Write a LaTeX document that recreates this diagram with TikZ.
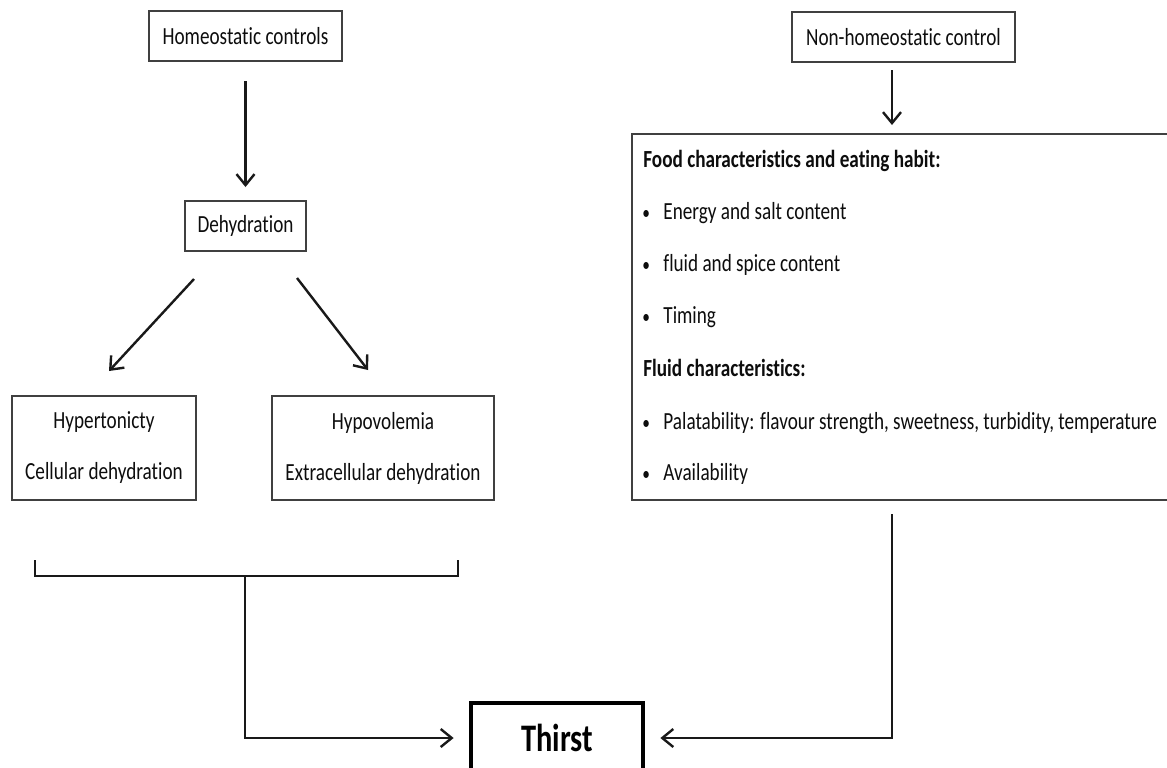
\documentclass[tikz,border=0pt]{standalone}
\usepackage{fontspec}
\setmainfont{Carlito}[FakeStretch=0.78, RawFeature={-liga;-calt;-clig;-dlig}]
\usetikzlibrary{arrows.meta,calc}
\newcommand{\bul}{\makebox[10.5pt][l]{\scalebox{0.8}{\textbullet}}}
\begin{document}
\begin{tikzpicture}[x=0.5pt,y=-0.5pt,
  font=\fontsize{12.3}{14.5}\selectfont,
  box/.style={draw=black!75, line width=1pt, text=black!95, inner sep=0pt, align=center},
  arr/.style={draw=black!90, line width=1.2pt, -{Straight Barb[length=5.5pt,width=9pt,line width=1.2pt]}},
  ln/.style={draw=black!90, line width=1.2pt},
  item/.style={anchor=base west, text=black!95, inner sep=0pt},
  hdr/.style={item, font=\fontsize{12.3}{14.5}\selectfont\bfseries}]
\useasboundingbox (0,0) rectangle (1167,767);
\fill[white] (0,0) rectangle (1167,767);
% nodes
\node[box, minimum width=96.5pt, minimum height=25pt] (homeo) at (245.5,36) {Homeostatic controls};
\node[box, minimum width=60.5pt, minimum height=25pt] (dehyd) at (245.5,226) {Dehydration};
\node[box, minimum width=92pt, minimum height=52pt] (hyper) at (104,448) {Hypertonicty\\[11pt]Cellular dehydration};
\node[box, minimum width=111pt, minimum height=52pt] (hypo) at (383,448) {Hypovolemia\\[11pt]Extracellular dehydration};
\node[box, minimum width=111.5pt, minimum height=25pt] (nonh) at (903.5,37) {Non-homeostatic control};
\node[box, anchor=north west, minimum width=280pt, minimum height=183pt] (food) at (631,133) {};
\node[box, line width=2.4pt, draw=black, text=black, minimum width=86pt, minimum height=35pt,
      font=\fontsize{19.5}{22}\selectfont\bfseries] (thirst) at (557,738) {Thirst};
% list text
\node[hdr] (t1) at (643,167) {Food characteristics and eating habit:};
\node[item] (t2) at (642,219) {\bul Energy and salt content};
\node[item] (t3) at (642,271) {\bul fluid and spice content};
\node[item] (t4) at (642,323) {\bul Timing};
\node[hdr] (t5) at (643,376) {Fluid characteristics:};
\node[item] (t6) at (642,429) {\bul Palatability: flavour strength, sweetness, turbidity, temperature};
\node[item] (t7) at (642,480) {\bul Availability};
% connectors
\draw[arr, shorten <=9.5pt, shorten >=6.5pt] (homeo.south) -- (dehyd.north);
\draw[arr] ($(dehyd.south west)+(10,27)$) -- ($(hyper.north)+(5,-24)$);
\draw[arr] ($(dehyd.south east)+(-10,26)$) -- ($(hypo.north)+(-15,-25)$);
\draw[arr] ($(nonh.south)+(-11.5,7)$) -- ($(food.north west)+(261,-8)$);
\coordinate (bl) at ($(hyper.south west)+(24,59)$);
\coordinate (br) at ($(hypo.south east)+(-37,59)$);
\coordinate (stem) at ($(bl)+(210,16)$);
\draw[ln] (bl) -- ++(0,16) -| (br);
\draw[arr, shorten >=7.5pt] (stem) |- (thirst.west);
\coordinate (rtop) at ($(food.south west)+(261,13)$);
\draw[arr, shorten >=7.5pt] (rtop) |- (thirst.east);
\end{tikzpicture}
\end{document}
